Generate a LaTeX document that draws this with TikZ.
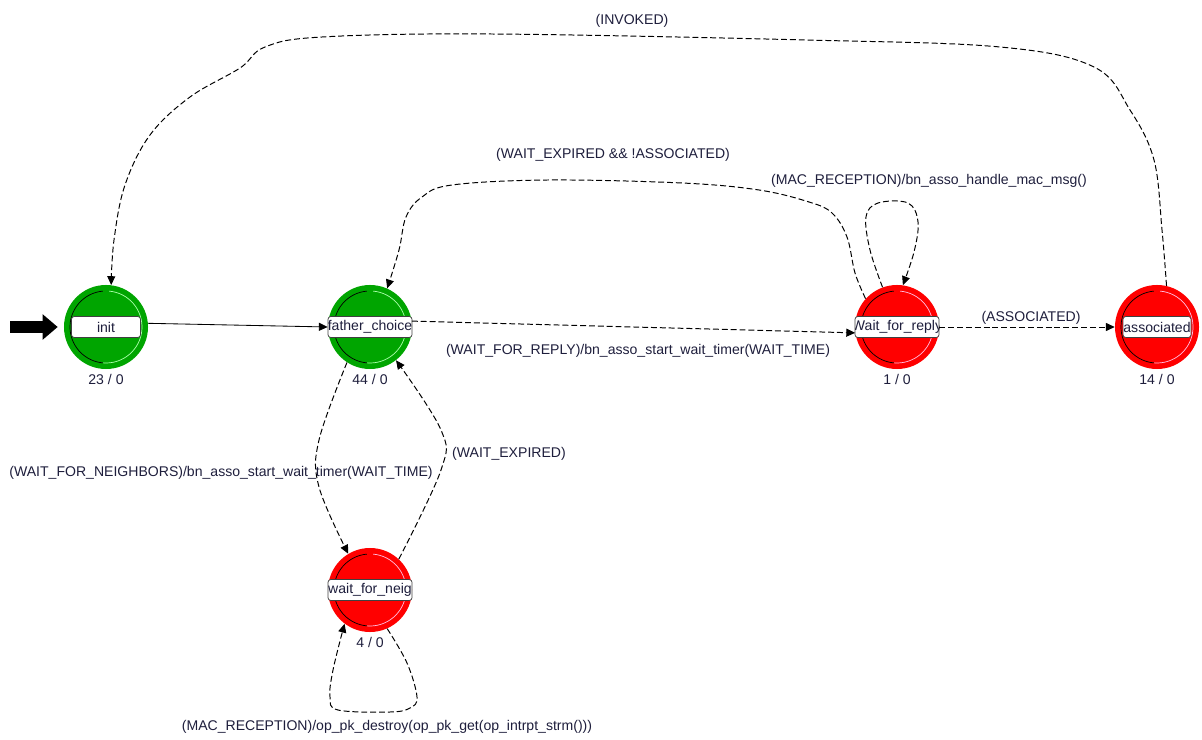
\documentclass[tikz,border=0pt]{standalone}
\usepackage{fontspec}
\setmainfont{Liberation Sans}
\usetikzlibrary{arrows.meta, positioning}

\definecolor{stgreen}{RGB}{0,165,0}
\definecolor{stred}{RGB}{255,0,0}
\definecolor{ringgreen}{RGB}{170,255,170}
\definecolor{ringred}{RGB}{255,190,225}
\definecolor{txt}{RGB}{30,30,60}

\begin{document}
\begin{tikzpicture}[x=0.025cm, y=-0.025cm,
		every node/.style={font=\fontsize{10}{12}\selectfont, text=txt},
		state/.style={circle, inner sep=0pt, minimum size=2.1cm},
		namebox/.style 2 args={draw=black!75, fill=white, rounded corners=2pt, inner sep=0pt,
			minimum height=0.525cm, minimum width=#1, line width=0.5pt,
			path picture={\node at (path picture bounding box.center) {#2};}},
		count/.style={inner sep=0pt, below=0.12cm of #1},
		trans/.style={dash pattern=on 4.2pt off 2.1pt, line width=0.7pt, -{Triangle[length=0.22cm,width=0.2cm]}}
	]
		
		% Cadre de l'image
		\useasboundingbox (0,0) rectangle (1202,740);
		
		% Etats (cercles colorés)
		\node[state, fill=stgreen] (init) at (106,327) {};
		\node[state, fill=stgreen] (father) at (370,327) {};
		\node[state, fill=stred] (wfr) at (897,327) {};
		\node[state, fill=stred] (assoc) at (1157,327) {};
		\node[state, fill=stred] (wfn) at (370,590) {};
		
		% Anneaux intérieurs
		\foreach \s/\c in {init/ringgreen, father/ringgreen, wfr/ringred, assoc/ringred, wfn/ringred}{
			\draw[black, line width=0.5pt] ([shift={(95:0.9cm)}]\s.center) arc (95:265:0.9cm);
			\draw[\c, line width=0.5pt] ([shift={(-95:0.9cm)}]\s.center) arc (-95:85:0.9cm);
		}
		
		% Noms des états
		\node[namebox={1.725cm}{init}] (init-n) at (init) {};
		\node[namebox={2.1cm}{father\_choice}] (father-n) at (father) {};
		\node[namebox={2.1cm}{Wait\_for\_reply}] (wfr-n) at (wfr) {};
		\node[namebox={1.7cm}{associated}] (assoc-n) at (assoc) {};
		\node[namebox={2.1cm}{wait\_for\_neig}] (wfn-n) at (wfn) {};
		
		% Compteurs sous les états
		\node[count=init] (init-c) {23 / 0};
		\node[count=father] (father-c) {44 / 0};
		\node[count=wfr] (wfr-c) {1 / 0};
		\node[count=assoc] (assoc-c) {14 / 0};
		\node[count=wfn] (wfn-c) {4 / 0};
		
		% Flèche d'entrée
		\coordinate (entry) at (10,327);
		\draw[line width=0.32cm, -{Triangle[length=0.38cm,width=0.62cm]}] (entry) -- ([xshift=-0.15cm]init.west);
		
		% Transitions droites
		\draw[line width=0.6pt, -{Triangle[length=0.22cm,width=0.2cm]}] (init.5) -- (father.west);
		\draw[trans] (father.8) -- (wfr.188);
		\draw[trans] (wfr.east) -- (assoc.west);
		
		% Transitions courbes
		\draw[trans] plot[smooth, tension=0.6] coordinates {(assoc.77) (1162,230) (1154,160) (1130,110) (1094,67)
			(1000,47) (806,40) (491,34) (322,37) (265,47) (240,68) (190,97) (150,135) (125,185) (114,240) (init.83)};
		\draw[trans] plot[smooth, tension=0.6] coordinates {(wfr.138) (855,273) (847,237) (832,213) (809,202) (759,190)
			(682,183) (548,180) (452,185) (422,197) (406,217) (399,250) (father.66)};
		\draw[trans] plot[smooth, tension=0.6] coordinates {(father.237) (319,440) (319,487) (wfn.121)};
		\draw[trans] plot[smooth, tension=0.6] coordinates {(wfn.47) (441,470) (441,430) (father.-52)};
		
		% Boucles
		\draw[trans] plot[smooth, tension=0.6] coordinates {(wfr.110) (870,250) (866,217) (878,203) (908,203)
			(918,222) (914,252) (wfr.82)};
		\draw[trans] plot[smooth, tension=0.6] coordinates {(wfn.-66) (407,663) (417,697) (410,708) (390,712)
			(338,710) (330,697) (333,670) (wfn.-127)};
		
		% Etiquettes des transitions
		\node (l-invoked) at (632,21) {(INVOKED)};
		\node (l-expassoc) at (613,155) {(WAIT\_EXPIRED \&\& !ASSOCIATED)};
		\node (l-macwfr) at (929,181) {(MAC\_RECEPTION)/bn\_asso\_handle\_mac\_msg()};
		\node (l-reply) at (638,351) {(WAIT\_FOR\_REPLY)/bn\_asso\_start\_wait\_timer(WAIT\_TIME)};
		\node (l-assoc) at (1031,318) {(ASSOCIATED)};
		\node (l-neigh) at (221,473) {(WAIT\_FOR\_NEIGHBORS)/bn\_asso\_start\_wait\_timer(WAIT\_TIME)};
		\node (l-expired) at (509,454) {(WAIT\_EXPIRED)};
		\node (l-macwfn) at (387,727) {(MAC\_RECEPTION)/op\_pk\_destroy(op\_pk\_get(op\_intrpt\_strm()))};
		
	\end{tikzpicture}
\end{document}
